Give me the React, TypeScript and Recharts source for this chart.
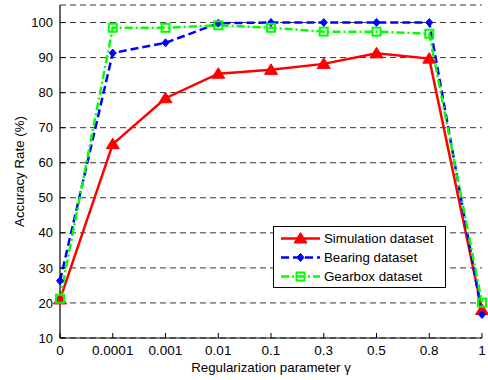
import { LineChart, Line, XAxis, YAxis, CartesianGrid, Legend } from 'recharts';

const gammaLabels = ['0', '0.0001', '0.001', '0.01', '0.1', '0.3', '0.5', '0.8', '1'];
const simulation = [21, 65.3, 78.4, 85.4, 86.5, 88.2, 91.2, 89.7, 18];
const bearing = [26.3, 91.3, 94.2, 99.8, 100, 100, 100, 100, 16.7];
const gearbox = [21.2, 98.5, 98.5, 99.2, 98.5, 97.4, 97.4, 96.8, 20.1];
const yTicks = [10, 20, 30, 40, 50, 60, 70, 80, 90, 100];

const data = gammaLabels.map((g, i) => ({
  idx: i,
  simulation: simulation[i],
  bearing: bearing[i],
  gearbox: gearbox[i],
}));

const FONT = '"Liberation Sans", Arial, sans-serif';

const Triangle = ({ cx, cy }: any) => (
  <polygon points={`${cx},${cy - 6} ${cx - 6.5},${cy + 4.5} ${cx + 6.5},${cy + 4.5}`} fill="#ff0000" stroke="#ff0000" strokeWidth={1} />
);
const Diamond = ({ cx, cy }: any) => (
  <polygon points={`${cx},${cy - 4} ${cx + 3.5},${cy} ${cx},${cy + 4} ${cx - 3.5},${cy}`} fill="#0000ff" stroke="#0000ff" strokeWidth={1} />
);
const Square = ({ cx, cy }: any) => (
  <rect x={cx - 4} y={cy - 4} width={8} height={8} fill="none" stroke="#00ff00" strokeWidth={2} />
);

const legendItems = [
  { name: 'Simulation dataset', color: '#ff0000', dash: undefined, Marker: Triangle },
  { name: 'Bearing dataset', color: '#0000ff', dash: '8 4', Marker: Diamond },
  { name: 'Gearbox dataset', color: '#00ff00', dash: '8 3 2 3', Marker: Square },
];

const LegendBox = () => (
  <svg width={174} height={63} style={{ display: 'block' }}>
    <rect x={0.5} y={0.5} width={172} height={61} fill="#fff" stroke="#000" strokeWidth={1} />
    {legendItems.map((it, i) => {
      const y = 12.5 + i * 19;
      return (
        <g key={it.name}>
          <line x1={8} x2={47} y1={y} y2={y} stroke={it.color} strokeWidth={2.5} strokeDasharray={it.dash} />
          <it.Marker cx={27.5} cy={y} />
          <text x={51} y={y + 4.5} fontSize={13.3} fontFamily={FONT} fill="#000">{it.name}</text>
        </g>
      );
    })}
  </svg>
);

export default function App() {
  return (
    <div style={{ position: 'absolute', left: 0, top: 0, width: 488, height: 380, background: '#fff' }}>
      <LineChart width={488} height={380} data={data} margin={{ top: 5, right: 6, bottom: 0, left: 0 }}>
        <CartesianGrid vertical={false} stroke="#000" strokeWidth={0.8} strokeDasharray="6 4" />
        <XAxis
          dataKey="idx"
          type="number"
          domain={[0, 8]}
          ticks={[0, 1, 2, 3, 4, 5, 6, 7, 8]}
          tickFormatter={(v) => gammaLabels[v]}
          height={42}
          tickSize={-5}
          tickMargin={12}
          stroke="#000"
          axisLine={{ stroke: '#000', strokeWidth: 1.2 }}
          tickLine={{ stroke: '#000' }}
          tick={{ fill: '#000', fontSize: 13.5, fontFamily: FONT }}
          label={{ value: 'Regularization parameter γ', position: 'insideBottom', offset: 8, fill: '#000', fontSize: 13.3, fontFamily: FONT }}
        />
        <XAxis
          xAxisId="top"
          orientation="top"
          dataKey="idx"
          type="number"
          domain={[0, 8]}
          ticks={[0, 1, 2, 3, 4, 5, 6, 7, 8]}
          tickFormatter={() => ''}
          height={0}
          tickSize={-5}
          axisLine={{ stroke: '#000', strokeWidth: 1.2 }}
          tickLine={{ stroke: '#000' }}
        />
        <YAxis
          domain={[10, 105]}
          ticks={yTicks}
          width={60}
          tickSize={-5}
          tickMargin={12}
          allowDataOverflow
          axisLine={{ stroke: '#000', strokeWidth: 1.2 }}
          tickLine={{ stroke: '#000' }}
          tick={{ fill: '#000', fontSize: 13, fontFamily: FONT }}
          label={{ value: 'Accuracy Rate (%)', angle: -90, position: 'insideLeft', offset: 19, style: { textAnchor: 'middle' }, fill: '#000', fontSize: 13.3, fontFamily: FONT }}
        />
        <YAxis
          yAxisId="right"
          orientation="right"
          domain={[10, 105]}
          ticks={yTicks}
          width={0}
          tickSize={-5}
          tickFormatter={() => ''}
          axisLine={{ stroke: '#000', strokeWidth: 1.2 }}
          tickLine={{ stroke: '#000' }}
        />
        <Line dataKey="simulation" stroke="#ff0000" strokeWidth={2.5} dot={<Triangle />} isAnimationActive={false} />
        <Line dataKey="bearing" stroke="#0000ff" strokeWidth={2.5} strokeDasharray="8 4" dot={<Diamond />} isAnimationActive={false} />
        <Line dataKey="gearbox" stroke="#00ff00" strokeWidth={2.5} strokeDasharray="8 3 2 3" dot={<Square />} isAnimationActive={false} />
        <Legend
          layout="vertical"
          align="center"
          verticalAlign="middle"
          content={() => <LegendBox />}
          wrapperStyle={{ position: 'absolute', left: 273, top: 226, width: 174, height: 63 }}
        />
      </LineChart>
    </div>
  );
}
